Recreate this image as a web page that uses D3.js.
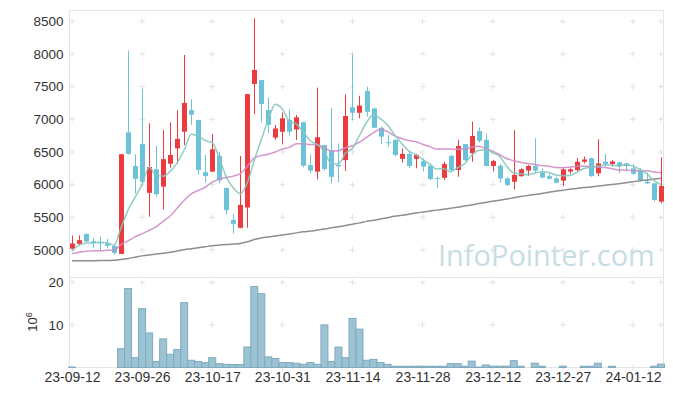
<!DOCTYPE html>
<html>
<head>
<meta charset="utf-8">
<script src="https://cdn.jsdelivr.net/npm/d3@7/dist/d3.min.js"></script>
<style>
  body { margin: 0; background: #fff; }
  svg { display: block; font-family: 'Liberation Sans', Arial, sans-serif; }
</style>
</head>
<body>
<div id="chart"></div>
<script>
// trading days (yy-mm-dd)
var dates = [
  '23-09-12', '23-09-13', '23-09-14', '23-09-15', '23-09-18', '23-09-19', '23-09-20', '23-09-21', '23-09-22', '23-09-25',
  '23-09-26', '23-09-27', '23-10-04', '23-10-05', '23-10-06', '23-10-10', '23-10-11', '23-10-12', '23-10-13', '23-10-16',
  '23-10-17', '23-10-18', '23-10-19', '23-10-20', '23-10-23', '23-10-24', '23-10-25', '23-10-26', '23-10-27', '23-10-30',
  '23-10-31', '23-11-01', '23-11-02', '23-11-03', '23-11-06', '23-11-07', '23-11-08', '23-11-09', '23-11-10', '23-11-13',
  '23-11-14', '23-11-15', '23-11-16', '23-11-17', '23-11-20', '23-11-21', '23-11-22', '23-11-23', '23-11-24', '23-11-27',
  '23-11-28', '23-11-29', '23-11-30', '23-12-01', '23-12-04', '23-12-05', '23-12-06', '23-12-07', '23-12-08', '23-12-11',
  '23-12-12', '23-12-13', '23-12-14', '23-12-15', '23-12-18', '23-12-19', '23-12-20', '23-12-21', '23-12-22', '23-12-26',
  '23-12-27', '23-12-28', '24-01-02', '24-01-03', '24-01-04', '24-01-05', '24-01-08', '24-01-09', '24-01-10', '24-01-11',
  '24-01-12', '24-01-15', '24-01-16', '24-01-17', '24-01-18'
];

var opens = [
  5020, 5095, 5245, 5135, 5115, 5100, 5060, 4940, 6800, 6285,
  6620, 5875, 6235, 5970, 6320, 6555, 6810, 7140, 6990, 6190,
  6200, 6440, 5950, 5460, 5340, 5650, 7540, 7600, 7140, 6720,
  6810, 6990, 6845, 6955, 6300, 6200, 6605, 6530, 6300, 6375,
  7185, 7100, 7435, 7165, 6870, 6650, 6685, 6395, 6470, 6395,
  6360, 6290, 6100, 6105, 6440, 6225, 6620, 6480, 6820, 6685,
  6285, 6290, 6095, 6045, 6130, 6215, 6285, 6185, 6130, 6095,
  6060, 6200, 6225, 6350, 6405, 6175, 6350, 6315, 6340, 6325,
  6250, 6225, 6045, 6020, 5740
];

var highs = [
  5220, 5225, 5255, 5190, 5205, 5170, 5080, 6470, 8050, 6465,
  7460, 6940, 6590, 6835, 6950, 7140, 7985, 7305, 6995, 6455,
  6775, 6505, 5955, 5550, 6440, 7390, 8545, 7605, 7330, 6915,
  7105, 7150, 7065, 6960, 6465, 7485, 6610, 7170, 6630, 7380,
  7995, 7360, 7500, 7180, 6890, 6760, 6690, 6555, 6505, 6470,
  6405, 6325, 6125, 6350, 6455, 6685, 6625, 6965, 6875, 6785,
  6380, 6325, 6120, 6835, 6250, 6300, 6710, 6250, 6165, 6120,
  6250, 6250, 6405, 6430, 6410, 6695, 6470, 6380, 6350, 6335,
  6315, 6250, 6185, 6025, 6420
];

var lows = [
  5010, 5065, 5100, 5025, 5000, 5025, 4925, 4935, 6460, 5865,
  5995, 5510, 5815, 5620, 6260, 6325, 6605, 6915, 6150, 6030,
  6195, 6020, 5545, 5255, 5330, 5340, 7075, 6955, 6785, 6685,
  6615, 6750, 6685, 6265, 6175, 6080, 6210, 6020, 6035, 6210,
  6990, 7015, 7040, 6870, 6620, 6580, 6430, 6335, 6250, 6250,
  6200, 6070, 5945, 6070, 6200, 6120, 6360, 6350, 6640, 6280,
  6200, 6030, 5980, 5930, 6120, 6130, 6185, 6095, 6080, 6020,
  5980, 6165, 6200, 6325, 6120, 6130, 6275, 6275, 6175, 6200,
  6150, 6070, 6005, 5740, 5715
];

var closes = [
  5100, 5150, 5130, 5105, 5110, 5065, 4955, 6465, 6470, 6090,
  6045, 6270, 5855, 6390, 6455, 6700, 7250, 7070, 6225, 6130,
  6540, 6065, 5610, 5400, 5690, 7385, 7755, 7235, 6915, 6860,
  7015, 6810, 7030, 6290, 6215, 6725, 6240, 6120, 6280, 7050,
  7100, 7210, 7115, 6870, 6735, 6640, 6455, 6470, 6285, 6455,
  6275, 6085, 6095, 6315, 6225, 6590, 6375, 6745, 6670, 6285,
  6360, 6095, 5995, 6150, 6235, 6285, 6215, 6110, 6090, 6030,
  6235, 6235, 6350, 6385, 6130, 6325, 6315, 6355, 6285, 6285,
  6165, 6070, 6020, 5765, 5980
];

// volume, millions of shares
var volumes = [
  0.1, 0, 0, 0, 0, 0, 0, 4.4, 18.5, 2.3,
  13.8, 8.1, 1.4, 6.7, 3.1, 4.2, 15.2, 1.7, 1.4, 1.15,
  2.3, 0.9, 0.75, 0.7, 0.7, 4.8, 19, 17.3, 2.5, 2.1,
  1.15, 1.15, 1.0, 0.75, 1.15, 0.75, 10, 1.4, 4.8, 2.3,
  11.5, 9, 1.7, 1.9, 1.15, 0.75, 0.3, 0.3, 0.3, 0.3,
  0.3, 0.3, 0.3, 0.3, 0.9, 0.9, 0.3, 1.5, 0.1, 0.6,
  0.3, 0.3, 0.3, 1.6, 0.3, 0, 1.0, 0.3, 0, 0,
  0.3, 0, 0, 0.3, 0.3, 1.0, 0, 0.3, 0, 0,
  0, 0, 0, 0.3, 0.8
];

// moving average lines
var ma5 = [
  4985, 5075, 5105, 5110, 5119, 5112, 5073, 5340, 5613, 5809,
  6005, 6268, 6146, 6130, 6203, 6334, 6530, 6773, 6740, 6675,
  6643, 6406, 6114, 5949, 5861, 6030, 6368, 6693, 6996, 7230,
  7156, 6967, 6926, 6801, 6672, 6614, 6500, 6318, 6316, 6483,
  6558, 6752, 6951, 7069, 7006, 6914, 6763, 6634, 6517, 6461,
  6388, 6314, 6239, 6245, 6199, 6262, 6320, 6450, 6521, 6533,
  6487, 6431, 6281, 6177, 6167, 6152, 6176, 6199, 6187, 6146,
  6136, 6140, 6188, 6247, 6267, 6285, 6301, 6302, 6282, 6313,
  6281, 6232, 6165, 6061, 6000
];

var ma20 = [
  4944, 4964, 4980, 4990, 4990, 4995, 5000, 5085, 5140, 5200,
  5250, 5300, 5355, 5440, 5520, 5640, 5760, 5860, 5910, 5960,
  6040, 6085, 6110, 6130, 6170, 6280, 6410, 6445, 6465, 6500,
  6545, 6570, 6627, 6625, 6615, 6611, 6560, 6515, 6520, 6565,
  6595, 6650, 6722, 6796, 6848, 6811, 6746, 6707, 6676, 6656,
  6619, 6582, 6545, 6545, 6545, 6540, 6545, 6575, 6588, 6550,
  6513, 6457, 6401, 6365, 6340, 6322, 6310, 6292, 6283, 6261,
  6259, 6267, 6280, 6283, 6278, 6265, 6262, 6243, 6223, 6223,
  6214, 6212, 6214, 6194, 6182
];

var ma60 = [
  4835, 4835, 4836, 4837, 4838, 4840, 4842, 4855, 4870, 4890,
  4910, 4925, 4938, 4950, 4965, 4985, 5005, 5020, 5035, 5050,
  5065, 5075, 5083, 5090, 5100, 5125, 5160, 5185, 5200, 5215,
  5230, 5245, 5262, 5278, 5290, 5305, 5320, 5340, 5355, 5375,
  5395, 5415, 5438, 5455, 5475, 5495, 5515, 5530, 5548, 5565,
  5580, 5595, 5610, 5625, 5640, 5655, 5672, 5690, 5710, 5728,
  5745, 5762, 5780, 5800, 5818, 5835, 5850, 5865, 5882, 5900,
  5915, 5930, 5942, 5955, 5965, 5978, 5990, 6002, 6015, 6030,
  6045, 6060, 6072, 6085, 6098
];

var priceTicks = [5000, 5500, 6000, 6500, 7000, 7500, 8000, 8500];
var volumeTicks = [10, 20];
var dateTicks = ['23-09-12', '23-09-26', '23-10-17', '23-10-31', '23-11-14', '23-11-28', '23-12-12', '23-12-27', '24-01-12'];

var width = 673;
var height = 396;
var left = 69.5;
var right = 663.5;
var priceTop = 10.5;
var priceBottom = 277.5;
var volBottom = 367.5;

var upColor = '#ec3b3f';
var downColor = '#6cc3d9';

var svg = d3.select('#chart').append('svg')
  .attr('width', width)
  .attr('height', height);

var x = d3.scalePoint().domain(dates).range([72, 661]);
var y = d3.scaleLinear().domain([4579, 8665]).range([priceBottom, priceTop]);
var yVol = d3.scaleLinear().domain([0, 21.1]).range([volBottom, priceBottom]);

// panel frames
svg.append('rect')
  .attr('x', left).attr('y', priceTop)
  .attr('width', right - left).attr('height', priceBottom - priceTop)
  .attr('fill', 'none').attr('stroke', '#e4e4e4');
svg.append('rect')
  .attr('x', left).attr('y', priceBottom)
  .attr('width', right - left).attr('height', volBottom - priceBottom)
  .attr('fill', 'none').attr('stroke', '#e4e4e4');

// grid drawn as small crosses
var gridDates = dateTicks.concat([dates[dates.length - 1]]);
var crossPath = function (cx, cy) {
  return 'M' + (cx - 3) + ',' + cy + 'H' + (cx + 3) + 'M' + cx + ',' + (cy - 3) + 'V' + (cy + 3);
};
var crosses = [];
gridDates.forEach(function (d) {
  priceTicks.forEach(function (t) { crosses.push(crossPath(x(d), y(t))); });
  [0].concat(volumeTicks).forEach(function (t) { crosses.push(crossPath(x(d), yVol(t))); });
});
svg.append('path')
  .attr('d', crosses.join(''))
  .attr('stroke', '#e2e2e2')
  .attr('stroke-width', 1)
  .attr('fill', 'none');

// watermark
var mark = svg.append('text')
  .attr('x', 438)
  .attr('y', 266)
  .attr('fill', '#c8dce4')
  .style('font-family', "'Open Sans', sans-serif")
  .style('font-size', '30px')
  .text('InfoPointer.com');
var markWidth = mark.node().getComputedTextLength();
mark.style('font-size', (30 * 217 / markWidth) + 'px');

// axes
var yAxis = svg.append('g')
  .attr('transform', 'translate(' + left + ',0)')
  .call(d3.axisLeft(y).tickValues(priceTicks).tickFormat(d3.format('d')).tickSize(0).tickPadding(6));
var volAxis = svg.append('g')
  .attr('transform', 'translate(' + left + ',0)')
  .call(d3.axisLeft(yVol).tickValues(volumeTicks).tickFormat(d3.format('d')).tickSize(0).tickPadding(6));
var xAxis = svg.append('g')
  .attr('transform', 'translate(0,' + volBottom + ')')
  .call(d3.axisBottom(x).tickValues(dateTicks).tickSize(0).tickPadding(5));

[yAxis, volAxis, xAxis].forEach(function (g) {
  g.select('.domain').remove();
  g.selectAll('text')
    .attr('fill', '#333')
    .style('font-family', "'Liberation Sans', Arial, sans-serif")
    .style('font-size', '13.5px');
});
xAxis.selectAll('text').style('font-size', '14px');

// volume unit label
var unit = svg.append('text')
  .attr('transform', 'translate(37,322) rotate(-90)')
  .attr('text-anchor', 'middle')
  .attr('fill', '#333')
  .style('font-size', '13px');
unit.append('tspan').text('10');
unit.append('tspan').attr('dy', -5).style('font-size', '9px').text('6');

// volume bars
var volGroup = svg.append('g');
volumes.forEach(function (v, i) {
  if (v <= 0) return;
  volGroup.append('rect')
    .attr('x', x(dates[i]) - 3.5)
    .attr('y', yVol(v))
    .attr('width', 7)
    .attr('height', volBottom - yVol(v))
    .attr('fill', '#9cc3d3')
    .attr('stroke', '#80aabe')
    .attr('stroke-width', 1);
});

// candles
var candles = svg.append('g').selectAll('g')
  .data(dates)
  .enter()
  .append('g');

candles.append('line')
  .attr('x1', function (d) { return Math.round(x(d)) + 0.5; })
  .attr('x2', function (d) { return Math.round(x(d)) + 0.5; })
  .attr('y1', function (d, i) { return y(highs[i]); })
  .attr('y2', function (d, i) { return y(lows[i]); })
  .attr('stroke', function (d, i) { return closes[i] >= opens[i] ? upColor : downColor; })
  .attr('stroke-width', 1);

candles.append('rect')
  .attr('x', function (d) { return Math.round(x(d)) - 2; })
  .attr('y', function (d, i) { return y(Math.max(opens[i], closes[i])); })
  .attr('width', 5)
  .attr('height', function (d, i) { return Math.max(1, Math.abs(y(opens[i]) - y(closes[i]))); })
  .attr('fill', function (d, i) { return closes[i] >= opens[i] ? upColor : downColor; });

// moving averages
var maLine = d3.line()
  .x(function (d, i) { return x(dates[i]); })
  .y(function (d) { return y(d); })
  .curve(d3.curveMonotoneX);

svg.append('path').datum(ma60)
  .attr('d', maLine)
  .attr('fill', 'none')
  .attr('stroke', '#8e8e8e')
  .attr('stroke-width', 1.5);

svg.append('path').datum(ma20)
  .attr('d', maLine)
  .attr('fill', 'none')
  .attr('stroke', '#cf8cc6')
  .attr('stroke-opacity', 0.9)
  .attr('stroke-width', 1.5);

svg.append('path').datum(ma5)
  .attr('d', maLine)
  .attr('fill', 'none')
  .attr('stroke', '#84c6bc')
  .attr('stroke-opacity', 0.9)
  .attr('stroke-width', 1.5);
</script>
</body>
</html>
